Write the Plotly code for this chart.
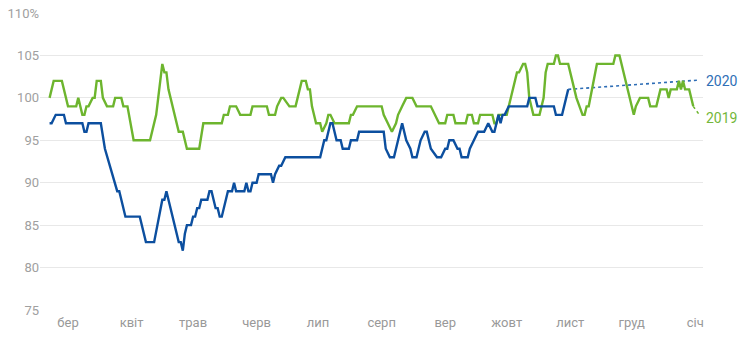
import plotly.graph_objects as go

# 2020 index (% of baseline), daily breakpoints
blue_dates = [
    "2020-02-21", "2020-02-22", "2020-02-24", "2020-02-28", "2020-02-29", "2020-03-08",
    "2020-03-09", "2020-03-10", "2020-03-11", "2020-03-17", "2020-03-19", "2020-03-25",
    "2020-03-26", "2020-03-29", "2020-04-05", "2020-04-08", "2020-04-12", "2020-04-16",
    "2020-04-17", "2020-04-18", "2020-04-19", "2020-04-21", "2020-04-24", "2020-04-25",
    "2020-04-26", "2020-04-27", "2020-04-28", "2020-04-30", "2020-05-01", "2020-05-02",
    "2020-05-03", "2020-05-04", "2020-05-05", "2020-05-08", "2020-05-09", "2020-05-10",
    "2020-05-12", "2020-05-13", "2020-05-14", "2020-05-15", "2020-05-18", "2020-05-20",
    "2020-05-21", "2020-05-22", "2020-05-26", "2020-05-27", "2020-05-28", "2020-05-29",
    "2020-05-30", "2020-06-01", "2020-06-02", "2020-06-08", "2020-06-09", "2020-06-10",
    "2020-06-12", "2020-06-13", "2020-06-15", "2020-07-02", "2020-07-04", "2020-07-05",
    "2020-07-07", "2020-07-08", "2020-07-10", "2020-07-12", "2020-07-13", "2020-07-16",
    "2020-07-17", "2020-07-20", "2020-07-21", "2020-08-02", "2020-08-03", "2020-08-05",
    "2020-08-07", "2020-08-09", "2020-08-11", "2020-08-13", "2020-08-15", "2020-08-16",
    "2020-08-18", "2020-08-19", "2020-08-20", "2020-08-22", "2020-08-23", "2020-08-25",
    "2020-08-28", "2020-08-30", "2020-09-01", "2020-09-02", "2020-09-03", "2020-09-05",
    "2020-09-07", "2020-09-08", "2020-09-09", "2020-09-12", "2020-09-13", "2020-09-15",
    "2020-09-17", "2020-09-20", "2020-09-22", "2020-09-24", "2020-09-25", "2020-09-26",
    "2020-09-27", "2020-09-28", "2020-09-29", "2020-09-30", "2020-10-02", "2020-10-11",
    "2020-10-12", "2020-10-15", "2020-10-16", "2020-10-24", "2020-10-25", "2020-10-28",
    "2020-10-29", "2020-10-30", "2020-10-31",
]
blue_values = [
    97, 97, 98, 98, 97, 97,
    96, 96, 97, 97, 94, 89,
    89, 86, 86, 83, 83, 88,
    88, 89, 88, 86, 83, 83,
    82, 84, 85, 85, 86, 86,
    87, 87, 88, 88, 89, 89,
    87, 87, 86, 86, 89, 89,
    90, 89, 89, 90, 89, 89,
    90, 90, 91, 91, 90, 91,
    92, 92, 93, 93, 95, 95,
    97, 97, 95, 95, 94, 94,
    95, 95, 96, 96, 94, 93,
    93, 95, 97, 95, 94, 93,
    93, 94, 95, 96, 96, 94,
    93, 93, 94, 94, 95, 95,
    94, 94, 93, 93, 94, 95,
    96, 96, 97, 96, 96, 97,
    98, 97, 98, 98, 99, 99,
    100, 100, 99, 99, 98, 98,
    99, 100, 101,
]

# 2019 index, placed on the same calendar days
green_dates = [
    "2020-02-21", "2020-02-23", "2020-02-27", "2020-03-01", "2020-03-05", "2020-03-06",
    "2020-03-08", "2020-03-09", "2020-03-10", "2020-03-11", "2020-03-13", "2020-03-14",
    "2020-03-15", "2020-03-17", "2020-03-18", "2020-03-20", "2020-03-23", "2020-03-24",
    "2020-03-27", "2020-03-28", "2020-03-30", "2020-04-02", "2020-04-10", "2020-04-13",
    "2020-04-14", "2020-04-15", "2020-04-16", "2020-04-17", "2020-04-18", "2020-04-19",
    "2020-04-21", "2020-04-23", "2020-04-24", "2020-04-26", "2020-04-28", "2020-05-04",
    "2020-05-06", "2020-05-15", "2020-05-16", "2020-05-18", "2020-05-19", "2020-05-22",
    "2020-05-24", "2020-05-29", "2020-05-30", "2020-06-06", "2020-06-07", "2020-06-10",
    "2020-06-11", "2020-06-13", "2020-06-14", "2020-06-17", "2020-06-20", "2020-06-21",
    "2020-06-22", "2020-06-23", "2020-06-25", "2020-06-26", "2020-06-27", "2020-06-28",
    "2020-06-29", "2020-06-30", "2020-07-02", "2020-07-03", "2020-07-05", "2020-07-06",
    "2020-07-07", "2020-07-09", "2020-07-16", "2020-07-17", "2020-07-18", "2020-07-20",
    "2020-08-01", "2020-08-02", "2020-08-04", "2020-08-06", "2020-08-08", "2020-08-09",
    "2020-08-11", "2020-08-13", "2020-08-16", "2020-08-18", "2020-08-25", "2020-08-27",
    "2020-08-29", "2020-09-01", "2020-09-02", "2020-09-05", "2020-09-06", "2020-09-11",
    "2020-09-12", "2020-09-14", "2020-09-15", "2020-09-17", "2020-09-18", "2020-09-24",
    "2020-09-25", "2020-09-26", "2020-09-27", "2020-10-01", "2020-10-03", "2020-10-06",
    "2020-10-07", "2020-10-09", "2020-10-10", "2020-10-11", "2020-10-12", "2020-10-14",
    "2020-10-17", "2020-10-19", "2020-10-20", "2020-10-21", "2020-10-24", "2020-10-25",
    "2020-10-26", "2020-10-27", "2020-10-31", "2020-11-01", "2020-11-04", "2020-11-07",
    "2020-11-08", "2020-11-09", "2020-11-10", "2020-11-14", "2020-11-22", "2020-11-23",
    "2020-11-25", "2020-12-02", "2020-12-03", "2020-12-05", "2020-12-09", "2020-12-10",
    "2020-12-13", "2020-12-14", "2020-12-15", "2020-12-18", "2020-12-19", "2020-12-20",
    "2020-12-23", "2020-12-24", "2020-12-25", "2020-12-26", "2020-12-27", "2020-12-29",
    "2020-12-31",
]
green_values = [
    100, 102, 102, 99, 99, 100,
    98, 98, 99, 99, 100, 100,
    102, 102, 100, 99, 99, 100,
    100, 99, 99, 95, 95, 98,
    100, 102, 104, 103, 103, 101,
    99, 97, 96, 96, 94, 94,
    97, 97, 98, 98, 99, 99,
    98, 98, 99, 99, 98, 98,
    99, 100, 100, 99, 99, 100,
    101, 102, 102, 101, 101, 99,
    98, 97, 97, 96, 97, 98,
    98, 97, 97, 98, 98, 99,
    99, 98, 97, 96, 97, 98,
    99, 100, 100, 99, 99, 98,
    97, 97, 98, 98, 97, 97,
    98, 98, 97, 97, 98, 98,
    97, 97, 98, 98, 100, 103,
    103, 104, 104, 103, 100, 98,
    98, 100, 103, 104, 104, 105,
    105, 104, 104, 103, 100, 98,
    98, 99, 99, 104, 104, 105,
    105, 98, 99, 100, 100, 99,
    99, 100, 101, 101, 100, 101,
    101, 102, 101, 102, 101, 101,
    99,
]

# Dotted continuation to the end of the period
blue_fc_dates = ["2020-10-31", "2021-01-03"]
blue_fc_values = [101, 102.1]
green_fc_dates = ["2020-12-31", "2021-01-03"]
green_fc_values = [99, 98]

month_ticks = ["2020-03-01", "2020-04-01", "2020-05-01", "2020-06-01", "2020-07-01",
               "2020-08-01", "2020-09-01", "2020-10-01", "2020-11-01", "2020-12-01",
               "2021-01-01"]
month_labels = ["бер", "квіт", "трав", "черв", "лип", "серп", "вер", "жовт",
                "лист", "груд", "січ"]
y_ticks = [75, 80, 85, 90, 95, 100, 105, 110]
y_labels = ["75", "80", "85", "90", "95", "100", "105", "110%"]

BLUE = "#0c4f9f"
GREEN = "#6db52e"

fig = go.Figure()
fig.add_trace(go.Scatter(x=green_fc_dates, y=green_fc_values, mode="lines",
                         line=dict(color=GREEN, width=1.5, dash="dot"), hoverinfo="skip"))
fig.add_trace(go.Scatter(x=blue_fc_dates, y=blue_fc_values, mode="lines",
                         line=dict(color="#2d6db5", width=1.6, dash="dot"), hoverinfo="skip"))
fig.add_trace(go.Scatter(x=green_dates, y=green_values, mode="lines", name="2019",
                         line=dict(color=GREEN, width=2.4)))
fig.add_trace(go.Scatter(x=blue_dates, y=blue_values, mode="lines", name="2020",
                         line=dict(color=BLUE, width=2.4)))

fig.add_annotation(x=1, xref="paper", xanchor="left", xshift=1, y=102.0, yref="y",
                   text="2020", showarrow=False,
                   font=dict(family="Roboto", size=14, color="#2f6fb6"))
fig.add_annotation(x=1, xref="paper", xanchor="left", xshift=1, y=97.6, yref="y",
                   text="2019", showarrow=False,
                   font=dict(family="Roboto", size=14, color="#74b73a"))

fig.update_layout(
    width=740, height=341,
    margin=dict(l=40, r=37, t=13, b=31, autoexpand=False),
    paper_bgcolor="white", plot_bgcolor="white",
    showlegend=False,
    font=dict(family="Roboto", size=13, color="#9a9a9a"),
)
fig.update_xaxes(
    type="date", automargin=False,
    range=["2020-02-16 08:00", "2021-01-04 18:00"],
    tickmode="array", tickvals=month_ticks, ticktext=month_labels,
    showgrid=False, zeroline=False, showline=False, ticks="",
    ticklabelstandoff=3,
    tickfont=dict(family="Roboto", size=13, color="#999999"),
)
fig.update_yaxes(
    automargin=False,
    range=[75, 110],
    tickmode="array", tickvals=y_ticks, ticktext=y_labels,
    showgrid=True, gridcolor="#e8e8e8", gridwidth=1,
    zeroline=False, showline=False, ticks="",
    tickfont=dict(family="Roboto", size=13, color="#a0a0a0"),
)

fig.write_html("out.html")
